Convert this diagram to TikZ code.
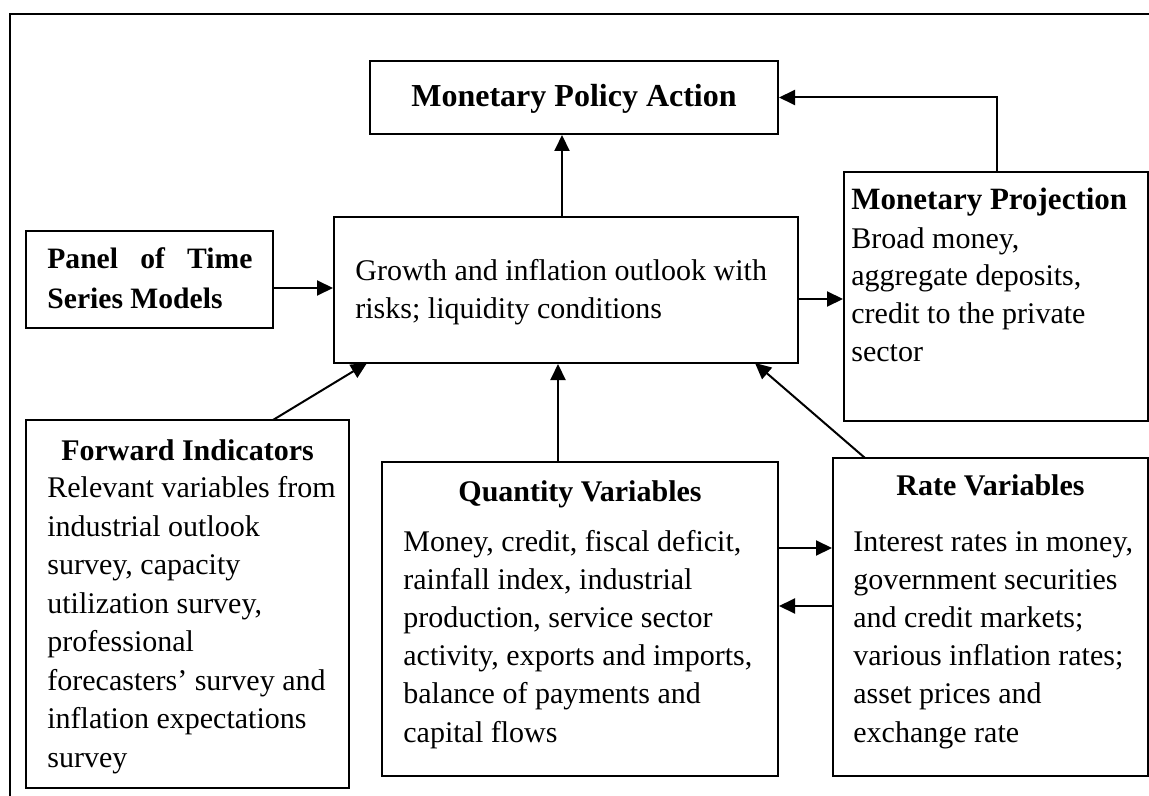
\documentclass[tikz,border=0pt]{standalone}
\usepackage{fontspec}
\setmainfont{Liberation Serif}
\usetikzlibrary{arrows.meta,fit}
\begin{document}
\begin{tikzpicture}[x=0.5pt,y=-0.5pt,
  box/.style={draw,line width=1pt,rectangle,inner sep=0pt},
  arr/.style={line width=1pt,-{Triangle[length=8pt,width=7.5pt]}},
  txt/.style={inner sep=0pt,anchor=base west,align=left,font=\fontsize{15pt}{18.8pt}\selectfont},
  head/.style={inner sep=0pt,anchor=base,font=\fontsize{15pt}{18.8pt}\selectfont\bfseries},
  lbl/.style={inner sep=0pt,anchor=base west,font=\fontsize{15.5pt}{18.8pt}\selectfont\bfseries}]
\useasboundingbox (0,0) rectangle (1149,796);
% outer frame
\draw[line width=1.2pt] (1160,14) -- (10,14) -- (10,810);
% boxes
\node[box,fit={(370,61)(778,134)}] (action) {};
\node[box,fit={(26,231)(273,328)}] (panel) {};
\node[box,fit={(334,217)(798,363)}] (outlook) {};
\node[box,fit={(844,172)(1148,421)}] (proj) {};
\node[box,fit={(26,420)(349,788)}] (fwd) {};
\node[box,fit={(382,462)(778,776)}] (qty) {};
\node[box,fit={(833,458)(1148,776)}] (rate) {};
% texts (multi-line nodes anchored at the baseline of their last line)
\node[head,font=\fontsize{16pt}{18.8pt}\selectfont\bfseries] (tAction) at (574,107) {Monetary Policy Action};
\node[lbl,align=left,font=\fontsize{14.8pt}{18.8pt}\selectfont\bfseries] (tPanel) at (47,308) {\makebox[102.5pt][s]{Panel of Time}\\[1.2pt]Series Models};
\node[txt] (tOutlook) at (355,318) {Growth and inflation outlook with\\risks; liquidity conditions};
\node[lbl] (hProj) at (851,210) {Monetary Projection};
\node[txt] (tProj) at (851,361) {Broad money,\\aggregate deposits,\\credit to the private\\sector};
\node[head] (hFwd) at (187.5,460) {Forward Indicators};
\node[txt,font=\fontsize{15pt}{19.25pt}\selectfont] (tFwd) at (47,767) {Relevant variables from\\industrial outlook\\survey, capacity\\utilization survey,\\professional\\forecasters’ survey and\\inflation expectations\\survey};
\node[head] (hQty) at (580,501) {Quantity Variables};
\node[txt,font=\fontsize{15pt}{19.1pt}\selectfont] (tQty) at (403,742) {Money, credit, fiscal deficit,\\rainfall index, industrial\\production, service sector\\activity, exports and imports,\\balance of payments and\\capital flows};
\node[head] (hRate) at (990.5,495) {Rate Variables};
\node[txt,font=\fontsize{15pt}{19.1pt}\selectfont] (tRate) at (853,742) {Interest rates in money,\\government securities\\and credit markets;\\various inflation rates;\\asset prices and\\exchange rate};
% helper coordinates
\coordinate (xUp) at (562,0);
\coordinate (xProj) at (997,0);
\coordinate (yPanel) at (0,288);
\coordinate (yProj) at (0,299);
\coordinate (xQty) at (558,0);
\coordinate (yQR) at (0,548);
\coordinate (yRQ) at (0,606);
\coordinate (fwdStart) at (273,420);
\coordinate (fwdEnd) at (367,363);
\coordinate (rateStart) at (865,458);
\coordinate (rateEnd) at (755,363);
% connectors
\draw[arr] (outlook.north -| xUp) -- (action.south -| xUp);
\draw[arr] (proj.north -| xProj) |- (action.east);
\draw[arr] (panel.east |- yPanel) -- (outlook.west |- yPanel);
\draw[arr] (outlook.east |- yProj) -- (proj.west |- yProj);
\draw[arr] (fwdStart) -- (fwdEnd);
\draw[arr] (qty.north -| xQty) -- (outlook.south -| xQty);
\draw[arr] (rateStart) -- (rateEnd);
\draw[arr] (qty.east |- yQR) -- (rate.west |- yQR);
\draw[arr] (rate.west |- yRQ) -- (qty.east |- yRQ);
\end{tikzpicture}
\end{document}
